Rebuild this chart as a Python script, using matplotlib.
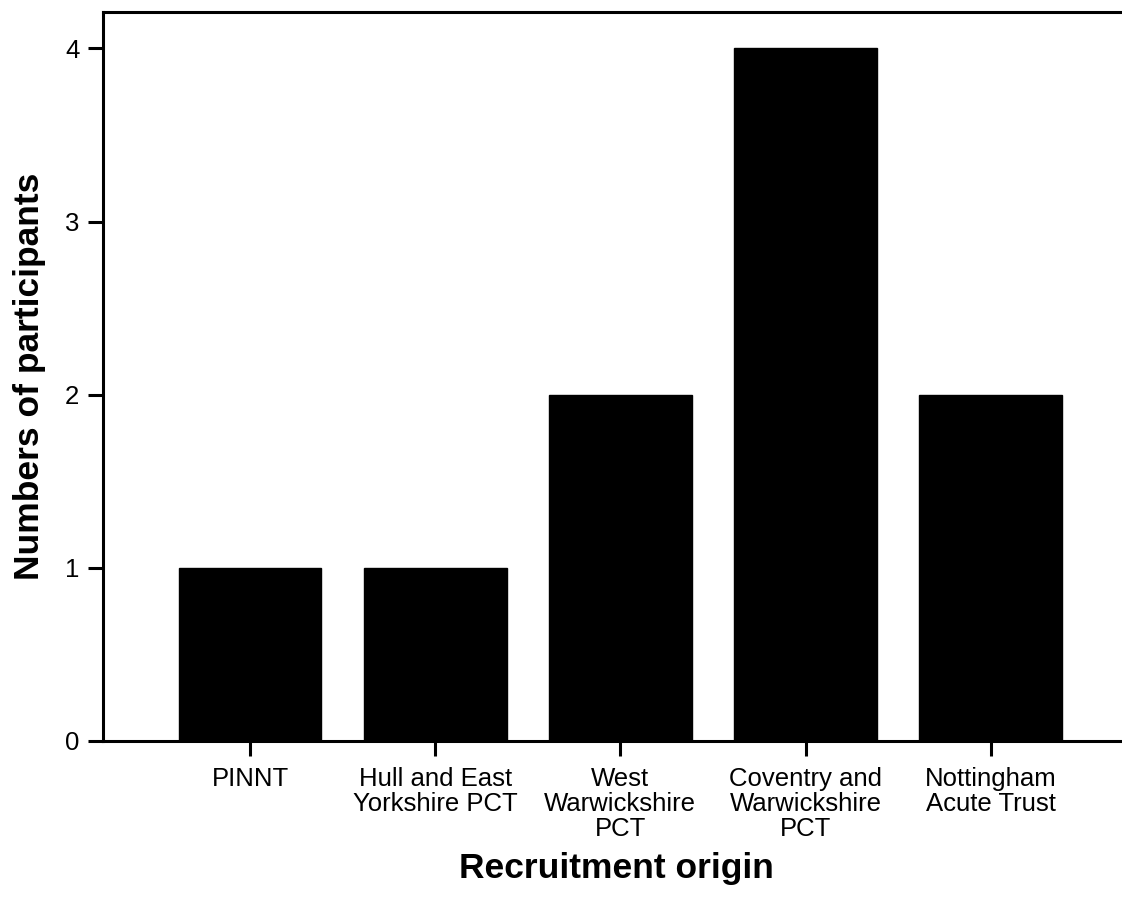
import numpy as np
import matplotlib.pyplot as plt

plt.rcParams['font.family'] = ['Liberation Sans', 'DejaVu Sans']

origins = ['PINNT', 'Hull and East\nYorkshire PCT', 'West\nWarwickshire\nPCT',
           'Coventry and\nWarwickshire\nPCT', 'Nottingham\nAcute Trust']
participants = [1, 1, 2, 4, 2]
y_ticks = [0, 1, 2, 3, 4]

fig = plt.figure(figsize=(11.22, 9.01), dpi=100)
ax = fig.add_axes([0.0918, 0.1776, 0.915, 0.809])

x = np.arange(len(origins))
ax.bar(x, participants, width=0.77, color='black', edgecolor='black')

ax.set_xlim(-0.794, 4.75)
ax.set_ylim(0, 4.21)
ax.set_yticks(y_ticks)
ax.set_xticks(x)
ax.set_xticklabels(origins, linespacing=1.05)

for s in ax.spines.values():
    s.set_linewidth(2.2)
ax.tick_params(axis='both', width=2.2, length=11, labelsize=18.5)
ax.tick_params(axis='x', pad=8)
ax.tick_params(axis='y', pad=6)

ax.set_xlabel('Recruitment origin', fontsize=25.5, fontweight='bold', labelpad=8)
ax.set_ylabel('Numbers of participants', fontsize=25.5, fontweight='bold', labelpad=14)

fig.savefig('out.png', dpi=100)
